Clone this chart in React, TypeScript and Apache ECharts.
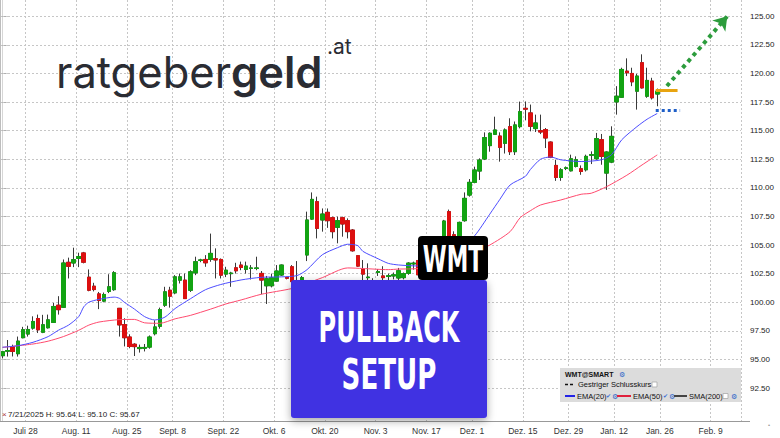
import { useEffect, useRef } from 'react';
import * as echarts from 'echarts';

// Trading sessions: weekdays from the first session, minus NYSE holidays.
const firstSession = '2025-07-21';
const marketHolidays = ['2025-09-01', '2025-11-27', '2025-12-25', '2026-01-01', '2026-01-19', '2026-02-16'];
const sessionCount = 146;

// Bi-weekly date ticks on the x axis.
const tickDates = [
  '2025-07-28', '2025-08-11', '2025-08-25', '2025-09-08', '2025-09-22', '2025-10-06', '2025-10-20',
  '2025-11-03', '2025-11-17', '2025-12-01', '2025-12-15', '2025-12-29', '2026-01-12', '2026-01-26', '2026-02-09',
];
const tickLabels = [
  'Juli 28', 'Aug. 11', 'Aug. 25', 'Sept. 8', 'Sept. 22', 'Okt. 6', 'Okt. 20',
  'Nov. 3', 'Nov. 17', 'Dez. 1', 'Dez. 15', 'Dez. 29', 'Jan. 12', 'Jan. 26', 'Feb. 9',
];

// Price ticks on the right axis.
const priceTicks = [92.5, 95, 97.5, 100, 102.5, 105, 107.5, 110, 112.5, 115, 117.5, 120, 122.5, 125];

// WMT daily candles: [open, close, low, high]
const wmtOhlc: [number, number, number, number][] = [
  [95.33, 95.67, 95.10, 95.64], [95.72, 95.78, 95.25, 96.70], [96.10, 95.70, 95.26, 96.29], [95.50, 96.60, 95.25, 97.00],
  [96.90, 97.60, 96.85, 97.85], [97.22, 97.62, 97.00, 97.95], [97.74, 98.32, 97.60, 98.77], [98.58, 97.59, 97.31, 98.92],
  [97.38, 98.03, 97.30, 98.90], [97.77, 98.46, 97.70, 98.92], [98.24, 99.63, 98.19, 99.94], [99.74, 99.35, 98.92, 100.53],
  [99.56, 103.43, 99.50, 103.74], [103.49, 103.14, 102.08, 103.90], [103.43, 103.72, 103.07, 104.77], [103.83, 104.00, 103.07, 104.33],
  [104.31, 103.50, 103.40, 104.40], [102.19, 101.05, 100.96, 102.87], [101.40, 101.11, 100.95, 101.70], [100.73, 100.15, 99.40, 100.90],
  [100.10, 100.68, 100.00, 100.85], [100.95, 101.35, 100.80, 102.45], [101.10, 102.58, 101.00, 102.72], [99.47, 98.02, 97.00, 99.50],
  [98.05, 96.90, 96.14, 98.60], [96.96, 96.13, 95.98, 97.20], [96.33, 96.12, 95.30, 96.42], [95.95, 96.05, 95.60, 96.30],
  [95.98, 96.05, 95.70, 96.35], [96.08, 96.96, 95.94, 97.10], [97.25, 97.84, 97.10, 98.42], [97.90, 99.36, 97.69, 99.53],
  [99.74, 100.91, 99.59, 101.35], [101.05, 100.53, 99.53, 101.35], [100.82, 102.22, 100.70, 102.37], [101.93, 102.22, 101.64, 102.51],
  [101.93, 100.32, 100.30, 102.51], [101.05, 102.66, 100.90, 102.80], [102.57, 103.54, 102.37, 103.98], [103.65, 103.70, 103.50, 103.80],
  [103.74, 103.45, 103.10, 104.12], [103.74, 104.27, 103.54, 106.00], [103.80, 103.70, 102.08, 104.71], [103.74, 102.37, 102.08, 103.83],
  [102.46, 102.80, 102.20, 103.10], [102.50, 102.55, 101.35, 102.66], [103.01, 102.75, 102.51, 103.45], [103.25, 103.04, 102.80, 103.55],
  [102.87, 103.16, 102.51, 103.55], [102.95, 103.00, 101.99, 103.25], [102.95, 103.00, 102.80, 103.98], [102.52, 101.94, 100.70, 102.73],
  [101.44, 102.05, 99.85, 102.30], [101.44, 102.14, 101.30, 102.50], [101.85, 102.73, 101.80, 103.25], [102.38, 103.25, 102.30, 103.30],
  [102.17, 102.10, 102.00, 102.20], [103.10, 101.80, 100.92, 103.25], [101.90, 101.60, 101.20, 103.60], [101.60, 102.15, 101.30, 102.30],
  [104.13, 107.19, 103.60, 107.92], [107.27, 108.99, 107.20, 109.60], [108.79, 106.46, 105.58, 109.23], [107.19, 107.71, 106.17, 108.20],
  [107.86, 107.13, 106.50, 108.20], [107.39, 106.17, 105.58, 107.48], [106.55, 107.13, 105.15, 107.48], [107.39, 106.84, 105.73, 107.48],
  [107.13, 106.17, 105.58, 107.33], [106.31, 104.50, 104.42, 106.40], [104.07, 103.16, 103.10, 104.13], [102.87, 102.46, 101.94, 103.69],
  [102.15, 102.20, 101.80, 103.40], [101.70, 101.80, 101.30, 102.10], [102.60, 102.68, 102.30, 102.90], [102.30, 102.15, 101.70, 103.15],
  [102.25, 102.32, 101.90, 102.50], [102.30, 102.40, 102.00, 102.60], [102.12, 102.75, 101.90, 103.00], [102.15, 102.50, 102.00, 102.60],
  [102.53, 103.42, 102.40, 103.50], [103.35, 103.42, 102.85, 103.55], [103.65, 102.40, 102.20, 103.80], [102.50, 103.20, 102.20, 103.60],
  [103.10, 103.90, 102.90, 104.30], [103.90, 104.60, 103.60, 105.00], [104.50, 105.30, 104.20, 105.60], [105.30, 107.10, 105.00, 107.20],
  [107.92, 105.70, 105.40, 108.10], [105.90, 105.80, 105.30, 106.20], [105.60, 106.98, 105.40, 107.05], [107.13, 109.08, 107.04, 109.60],
  [109.37, 110.48, 109.23, 110.77], [110.48, 111.56, 110.40, 111.85], [111.47, 112.43, 110.69, 112.58], [112.52, 114.39, 112.43, 114.85],
  [113.69, 114.77, 113.16, 114.85], [114.68, 115.06, 114.62, 116.22], [114.53, 113.54, 112.29, 114.85], [113.89, 115.06, 113.00, 115.20],
  [115.35, 113.16, 112.87, 116.08], [113.16, 115.50, 112.87, 115.80], [115.35, 116.66, 115.20, 117.54], [116.95, 116.88, 115.90, 117.55],
  [116.55, 115.38, 114.94, 117.28], [115.18, 115.67, 114.88, 116.40], [115.00, 114.88, 114.70, 116.40], [115.09, 114.36, 113.48, 115.23],
  [114.00, 112.66, 112.60, 114.06], [111.96, 110.91, 110.61, 112.46], [110.91, 111.58, 110.61, 111.72], [111.70, 111.75, 111.55, 111.87],
  [111.49, 112.54, 111.43, 112.90], [111.87, 112.46, 111.78, 112.75], [111.67, 111.43, 111.14, 111.96], [111.58, 112.75, 111.43, 112.90],
  [112.85, 112.90, 112.08, 113.19], [112.54, 114.30, 112.46, 114.80], [114.21, 112.75, 112.02, 114.71], [111.29, 113.13, 109.82, 113.19],
  [112.25, 114.50, 112.16, 115.38], [117.51, 118.01, 116.40, 118.89], [117.92, 120.35, 117.87, 120.50], [120.20, 120.06, 119.77, 121.32],
  [120.00, 119.27, 118.89, 120.50], [118.45, 119.77, 116.84, 119.97], [120.94, 118.74, 118.68, 121.67], [118.01, 119.39, 117.87, 120.50],
  [119.33, 117.87, 117.72, 119.62], [118.20, 118.45, 117.13, 118.68],
];

// Moving averages as [session index, value]
const ema20: [number, number][] = [
  [0, 96.07], [3, 96.2], [6, 96.5], [9, 97.0], [11, 97.55], [13, 98.0], [15, 98.74], [16, 99.6], [17, 100.0],
  [19, 100.25], [22, 100.45], [23, 100.35], [24, 100.0], [26, 99.4], [28, 98.74], [30, 98.45], [32, 98.7],
  [34, 99.45], [37, 100.3], [40, 101.1], [43, 101.55], [47, 101.95], [51, 102.18], [55, 102.22], [58, 102.33],
  [60, 102.85], [63, 104.15], [66, 104.77], [68, 105.07], [70, 104.95], [71, 104.45], [74, 103.8], [76, 103.4],
  [78, 103.26], [82, 103.17], [86, 103.5], [90, 104.6], [93, 105.8], [96, 107.7], [98, 109.0], [100, 110.25],
  [103, 111.0], [104, 111.6], [106, 112.5], [108, 112.7], [110, 112.45], [114, 112.3], [118, 112.45], [120, 112.9],
  [122, 114.2], [125, 115.35], [127, 116.0], [129, 116.5],
];
const ema50: [number, number][] = [
  [0, 96.05], [6, 96.35], [9, 96.6], [12, 97.0], [15, 97.55], [17, 98.0], [19, 98.27], [23, 98.48], [26, 98.5],
  [28, 98.2], [31, 98.16], [34, 98.55], [37, 98.85], [41, 99.4], [44, 99.85], [47, 100.2], [51, 100.7], [57, 101.2],
  [60, 101.66], [63, 102.15], [68, 103.0], [71, 102.95], [76, 102.85], [78, 102.9], [82, 102.95], [88, 103.6],
  [93, 104.4], [96, 105.0], [100, 106.17], [102, 107.4], [104, 108.0], [106, 108.5], [110, 108.94], [114, 109.44],
  [116, 109.53], [119, 110.1], [123, 111.1], [126, 112.0], [129, 112.88],
];

// Trade idea annotations: [session index, price]
const breakoutLevel: [number, number][] = [[128.7, 118.55], [133, 118.55]];
const supportLevel: [number, number][] = [[128.7, 116.8], [133.5, 116.8]];
const targetArrow: [number, number][] = [[130.9, 118.9], [142.8, 125.0]];

const GREEN = '#12a312';
const RED = '#dc1010';
const WICK = '#3a3a3a';
const AXIS_FONT = "'Liberation Sans', Arial, sans-serif";
const NARROW_FONT = "'Liberation Sans Narrow', 'DejaVu Sans Condensed', 'Liberation Sans', sans-serif";

function buildSessions(): string[] {
  const out: string[] = [];
  const d = new Date(firstSession + 'T00:00:00Z');
  while (out.length < sessionCount) {
    const iso = d.toISOString().slice(0, 10);
    const wd = d.getUTCDay();
    if (wd !== 0 && wd !== 6 && !marketHolidays.includes(iso)) out.push(iso);
    d.setUTCDate(d.getUTCDate() + 1);
  }
  return out;
}

function usDate(iso: string): string {
  const [y, m, d] = iso.split('-').map(Number);
  return `${m}/${d}/${y}`;
}

export default function App() {
  const ref = useRef<HTMLDivElement>(null);

  useEffect(() => {
    if (!ref.current) return;
    const chart = echarts.init(ref.current, null, { renderer: 'svg' });
    const sessions = buildSessions();
    const wickData = wmtOhlc.map(([o, c, l, h]) => [o, c, l, h]);
    const bodyData = wmtOhlc.map(([o, c]) => [o, c, Math.min(o, c), Math.max(o, c)]);
    const [, c0, l0, h0] = wmtOhlc[0];
    const lastClose = wmtOhlc[wmtOhlc.length - 1][1];
    const infoText = `${usDate(sessions[0])} H: ${h0.toFixed(2)} L: ${l0.toFixed(2)} C: ${c0.toFixed(2)}`;
    const isTick = (_i: number, v: string) => tickDates.includes(v);

    const Z = 100;
    const txt = (x: number, y: number, text: string, extra: any = {}) => ({
      type: 'text', x, y, z: Z,
      style: { text, fill: '#111', fontFamily: AXIS_FONT, fontSize: 7.5, align: 'left', verticalAlign: 'middle', ...extra },
    });
    const seg = (x1: number, y1: number, x2: number, y2: number, style: any) => ({
      type: 'line', z: Z, shape: { x1, y1, x2, y2 }, style,
    });
    const box = (x: number, y: number) => ({
      type: 'rect', z: Z, shape: { x, y, width: 5, height: 5 }, style: { fill: '#fff', stroke: '#aaa', lineWidth: 0.8 },
    });

    chart.setOption({
      animation: false,
      backgroundColor: '#ffffff',
      grid: { left: 0, right: 39, top: 0, bottom: 17, containLabel: false, outerBoundsMode: 'none' },
      xAxis: [
        {
          type: 'category',
          data: sessions,
          boundaryGap: true,
          axisLine: { show: true, lineStyle: { color: '#999', width: 1 } },
          axisTick: { show: false },
          axisLabel: {
            interval: isTick,
            formatter: (v: string) => tickLabels[tickDates.indexOf(v)] ?? '',
            fontFamily: AXIS_FONT,
            fontSize: 8.5,
            color: '#333',
            margin: 5,
            padding: [0, 5, 0, 0],
          },
          splitLine: { show: true, interval: isTick, lineStyle: { color: '#c6c6c6', type: [2, 2], width: 1 } },
        },
        { type: 'value', min: -0.5, max: sessionCount - 0.5, show: false },
      ],
      yAxis: {
        type: 'value',
        position: 'right',
        min: 89.62,
        max: 126.42,
        axisLine: { show: true, lineStyle: { color: '#d6d6d6' } },
        axisTick: { show: true, length: 5, customValues: priceTicks, lineStyle: { color: '#999', type: [1, 1] } },
        axisLabel: {
          customValues: priceTicks,
          formatter: (v: number) => v.toFixed(2),
          fontFamily: AXIS_FONT,
          fontSize: 8,
          color: '#222',
          margin: 9,
        },
        splitLine: { show: true, lineStyle: { color: '#c6c6c6', type: [2, 2], width: 1 } },
      },
      series: [
        {
          type: 'candlestick',
          name: 'wicks',
          data: wickData,
          barWidth: 4,
          z: 3,
          itemStyle: { color: WICK, color0: WICK, borderColor: WICK, borderColor0: WICK, borderColorDoji: WICK, borderWidth: 1 },
        },
        {
          type: 'candlestick',
          name: 'WMT',
          data: bodyData,
          barWidth: 4,
          z: 4,
          itemStyle: { color: GREEN, color0: RED, borderColor: GREEN, borderColor0: RED, borderWidth: 1 },
        },
        {
          type: 'line',
          name: 'EMA(50)',
          xAxisIndex: 1,
          data: ema50,
          symbol: 'none',
          smooth: 0.25,
          z: 5,
          lineStyle: { color: '#ff4a6e', width: 1 },
        },
        {
          type: 'line',
          name: 'EMA(20)',
          xAxisIndex: 1,
          data: ema20,
          symbol: 'none',
          smooth: 0.25,
          z: 5,
          lineStyle: { color: '#4d4dff', width: 1 },
          markLine: {
            silent: true,
            symbol: ['none', 'none'],
            label: { show: false },
            data: [
              [
                { coord: breakoutLevel[0], lineStyle: { color: '#e8a410', width: 3, type: 'solid' } },
                { coord: breakoutLevel[1] },
              ],
              [
                { coord: supportLevel[0], lineStyle: { color: '#1f5fc8', width: 3, type: [3, 3] } },
                { coord: supportLevel[1] },
              ],
              [
                { coord: targetArrow[0], lineStyle: { color: '#2c9c3c', width: 4, type: [4, 4] } },
                { coord: targetArrow[1], symbol: 'arrow', symbolSize: 13 },
              ],
              {
                yAxis: lastClose,
                lineStyle: { width: 0, opacity: 0 },
                label: {
                  show: true,
                  position: 'end',
                  formatter: lastClose.toFixed(2),
                  color: '#000',
                  backgroundColor: '#d3d33a',
                  padding: [2, 2, 1, 2],
                  fontSize: 8,
                  fontFamily: AXIS_FONT,
                  distance: 6,
                },
              },
            ],
          },
        },
      ],
      graphic: [
        // chart frame bits
        seg(0.5, 0, 0.5, 421, { stroke: '#bdbdbd', lineWidth: 1 }),
        seg(741, 421.5, 750, 421.5, { stroke: '#999', lineWidth: 1 }),
        txt(768, 425, '•', { fill: '#999', fontSize: 6 }),
        // brand
        {
          type: 'text', x: 56, y: 72, z: Z,
          style: {
            text: '{a|ratgeber}{b|geld}',
            verticalAlign: 'middle',
            align: 'left',
            rich: {
              a: { fontFamily: 'Inter', fontSize: 43.5, fontWeight: 400, fill: '#2a2c33', color: '#2a2c33' },
              b: { fontFamily: 'Inter', fontSize: 43.5, fontWeight: 600, fill: '#2a2c33', color: '#2a2c33' },
            },
          },
        },
        txt(327, 46, '.at', { fontFamily: 'Inter', fontSize: 21, fill: '#2a2c33' }),
        // pullback banner
        {
          type: 'rect', z: Z,
          shape: { x: 291, y: 280, width: 196, height: 138, r: 3 },
          style: { fill: '#4133e2', shadowBlur: 8, shadowColor: 'rgba(0,0,0,0.35)', shadowOffsetY: 3 },
        },
        {
          type: 'text', x: 389, y: 327, z: Z + 1, scaleX: 0.81, scaleY: 1.28,
          style: { text: 'PULLBACK', fill: '#fff', fontFamily: NARROW_FONT, fontWeight: 'bold', fontSize: 33, align: 'center', verticalAlign: 'middle' },
        },
        {
          type: 'text', x: 389, y: 374, z: Z + 1, scaleX: 0.88, scaleY: 1.28,
          style: { text: 'SETUP', fill: '#fff', fontFamily: NARROW_FONT, fontWeight: 'bold', fontSize: 33, align: 'center', verticalAlign: 'middle' },
        },
        {
          type: 'rect', z: Z + 2,
          shape: { x: 418, y: 236, width: 70, height: 44, r: 4 },
          style: { fill: '#000' },
        },
        {
          type: 'text', x: 453, y: 259, z: Z + 3, scaleX: 0.86, scaleY: 1.3,
          style: { text: 'WMT', fill: '#fff', fontFamily: NARROW_FONT, fontWeight: 'bold', fontSize: 28, align: 'center', verticalAlign: 'middle' },
        },
        // legend panel
        { type: 'rect', z: Z, shape: { x: 560, y: 368, width: 181, height: 34 }, style: { fill: '#dcdcdc' } },
        txt(565, 374, 'WMT@SMART', { fontWeight: 'bold', fontSize: 7 }),
        txt(619, 374, '⚙', { fill: '#2f64c8', fontSize: 7 }),
        seg(565, 384.5, 575, 384.5, { stroke: '#111', lineWidth: 1.5, lineDash: [3, 2] }),
        txt(578, 384.5, 'Gestriger Schlusskurs'),
        box(652, 382),
        seg(565, 396, 575, 396, { stroke: '#2323e6', lineWidth: 2 }),
        txt(577, 396, 'EMA(20)'),
        txt(606, 396, '✔', { fill: '#3b6fd6', fontSize: 6 }),
        txt(612, 396, '⚙', { fill: '#2f64c8', fontSize: 7 }),
        seg(617, 396, 631, 396, { stroke: '#e0203c', lineWidth: 2 }),
        txt(633, 396, 'EMA(50)'),
        txt(663, 396, '✔', { fill: '#3b6fd6', fontSize: 6 }),
        txt(669, 396, '⚙', { fill: '#2f64c8', fontSize: 7 }),
        seg(674, 396, 687, 396, { stroke: '#444', lineWidth: 2 }),
        txt(689, 396, 'SMA(200)'),
        box(723, 393.5),
        txt(731, 396, '⚙', { fill: '#2f64c8', fontSize: 7 }),
        // hovered session readout
        txt(2, 414, '×', { fill: '#a33', fontSize: 8 }),
        txt(8, 414, infoText, { fontSize: 8, fill: '#222' }),
      ],
    });

    return () => chart.dispose();
  }, []);

  return (
    <div
      ref={ref}
      style={{ position: 'fixed', left: 0, top: 0, width: 780, height: 438, background: '#fff' }}
    />
  );
}
